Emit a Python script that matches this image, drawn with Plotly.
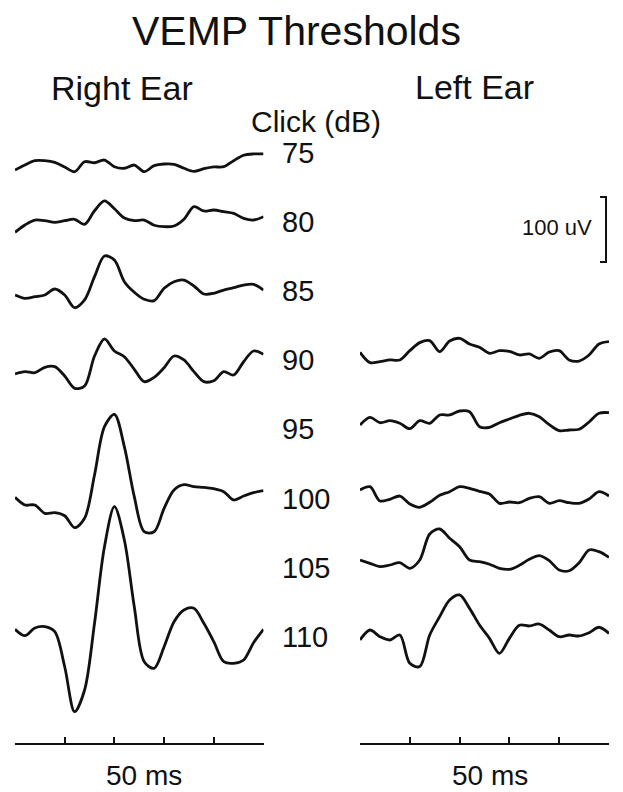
import plotly.graph_objects as go

# ---------------------------------------------------------------------------
# VEMP waveforms: amplitude (uV) sampled every 2 ms over a 50 ms sweep.
# Values are relative to the row baseline of each click level.
# ---------------------------------------------------------------------------
t_ms = [0, 2, 4, 6, 8, 10, 12, 14, 16, 18, 20, 22, 24,
        26, 28, 30, 32, 34, 36, 38, 40, 42, 44, 46, 48, 50]

click_levels_db = [75, 80, 85, 90, 95, 100, 105, 110]

# Right ear (left column)
right_75 = [-26.2, -18.5, -11.8, -11.8, -14.3, -21.5, -28.8, -13.4, -15.0, -10.8, -21.1, -23.5, -18.5,
            -28.8, -19.5, -16.9, -17.4, -23.5, -28.2, -24.2, -21.5, -21.1, -11.8, -3.5, -1.5, -1.5]
right_80 = [-15.7, -4.5, 3.2, 2.2, -0.3, 2.2, 4.3, -3.4, 17.5, 32.5, 20.5, 6.3, 2.2,
            3.2, -4.9, -7.1, -6.0, 4.3, 23.7, 17.1, 18.6, 16.0, 13.4, 5.8, 3.2, 8.3]
right_85 = [-5.8, -10.9, -8.5, -5.8, 3.4, -5.8, -25.4, -13.5, 22.3, 54.2, 48.0, 14.6, -1.7,
            -12.5, -14.5, 4.5, 14.6, 17.2, 8.0, -4.3, -3.2, 1.8, 5.4, 9.5, 10.6, 1.8]
right_90 = [-21.1, -17.5, -19.1, -10.8, -9.8, -24.2, -43.1, -39.5, 6.6, 32.8, 14.3, 5.5, -13.8,
            -32.9, -26.2, -11.4, 6.6, 0.5, -17.5, -32.9, -31.4, -17.5, -22.6, -2.2, 14.3, 9.2]
right_100 = [1.8, -10.0, -10.0, -22.8, -21.8, -26.5, -44.9, -30.5, 36.2, 110.5, 129.5, 79.7, 2.8,
             -51.1, -51.1, -15.1, 13.1, 21.2, 18.2, 17.2, 15.1, 10.5, -2.3, 3.8, 8.9, 12.0]
right_110 = [11.4, 1.5, 13.4, 15.4, 7.7, -46.2, -115.4, -82.0, 20.6, 138.5, 200.0, 148.8, 46.2,
             -38.5, -48.7, -15.4, 23.1, 41.1, 43.7, 20.6, -7.7, -38.5, -40.9, -35.8, -9.2, 11.4]

# Left ear (right column)
left_90 = [12.3, -3.5, -2.1, 0.5, 0.5, 14.8, 27.2, 30.2, 13.2, 29.7, 33.8, 25.1, 20.0,
           10.8, 14.8, 13.8, 8.2, 9.7, 3.1, 12.8, 14.8, 0.5, -1.1, 8.2, 25.1, 28.6]
left_95 = [6.8, 18.6, 10.3, 13.4, 9.4, 1.1, 13.4, 9.4, 22.2, 22.2, 28.3, 27.2, 4.2,
           3.2, 10.3, 16.0, 21.7, 24.8, 19.5, 7.2, -2.0, -0.9, 0.2, 11.4, 24.8, 25.7]
left_100 = [13.1, 18.2, -3.8, -1.2, 3.8, -8.5, -13.5, -5.8, 4.9, 10.5, 18.2, 15.7, 11.1,
            6.9, -7.4, -5.4, -6.5, 0.3, 2.8, -7.4, -3.4, -6.5, -7.4, -0.8, 10.5, 3.8]
left_105 = [11.7, 6.6, 1.4, 4.0, 7.5, -1.1, 11.7, 51.7, 59.4, 45.1, 32.2, 11.7, 9.1,
            5.1, -1.1, -2.6, 3.5, 12.8, 18.3, 10.6, -3.7, -4.8, 7.5, 27.1, 24.5, 15.8]
left_110 = [-5.1, 10.3, 0.0, -5.1, 2.6, -41.0, -46.0, 2.6, 30.8, 56.5, 64.2, 43.6, 18.0,
            -2.5, -25.6, -2.5, 17.5, 16.5, 19.5, 10.3, 0.0, 2.6, 1.1, 6.2, 14.5, 5.1]

right_ear = {75: right_75, 80: right_80, 85: right_85, 90: right_90,
             100: right_100, 110: right_110}
left_ear = {90: left_90, 95: left_95, 100: left_100, 105: left_105, 110: left_110}

scale_bar_uv = 100
sweep_ms = 50

# ---------------------------------------------------------------------------
# Layout geometry
# ---------------------------------------------------------------------------
W, H = 623, 792
PX_PER_UV = 0.65          # vertical gain
ROW_PX = 69.1             # spacing between click levels
FIRST_ROW_PX = 153        # top row position (px from top)
ROW_UV = ROW_PX / PX_PER_UV

Y_TOP = FIRST_ROW_PX / PX_PER_UV
Y_BOTTOM = -(H - FIRST_ROW_PX) / PX_PER_UV

def px_to_uv(py):
    return (FIRST_ROW_PX - py) / PX_PER_UV

def row_offset(db):
    return -click_levels_db.index(db) * ROW_UV

FONT = "Liberation Sans, Arial, sans-serif"
INK = "#111111"
TRACE_STYLE = dict(color=INK, width=2.8, shape="spline", smoothing=0.9)

fig = go.Figure()

for db, vals in right_ear.items():
    off = row_offset(db)
    fig.add_trace(go.Scatter(
        x=t_ms, y=[v + off for v in vals], mode="lines", line=TRACE_STYLE,
        xaxis="x", yaxis="y", hoverinfo="skip", showlegend=False))

for db, vals in left_ear.items():
    off = row_offset(db)
    fig.add_trace(go.Scatter(
        x=t_ms, y=[v + off for v in vals], mode="lines", line=TRACE_STYLE,
        xaxis="x2", yaxis="y", hoverinfo="skip", showlegend=False))

# 100 uV calibration bracket in the left-ear panel
bar_x = 49.4
bar_top = px_to_uv(197)
fig.add_trace(go.Scatter(
    x=[bar_x - 1.2, bar_x, bar_x, bar_x - 1.2],
    y=[bar_top, bar_top, bar_top - scale_bar_uv, bar_top - scale_bar_uv],
    mode="lines", line=dict(color=INK, width=2),
    xaxis="x2", yaxis="y", hoverinfo="skip", showlegend=False))

axis_y = (H - 744) / H
time_axis = dict(
    range=[0, sweep_ms], anchor="free", position=axis_y,
    showline=True, linecolor=INK, linewidth=2,
    showgrid=False, zeroline=False, showticklabels=False,
    ticks="inside", tickmode="linear", tick0=0, dtick=sweep_ms,
    ticklen=10, tickwidth=1.6, tickcolor=INK,
    minor=dict(ticks="inside", dtick=10, ticklen=6, tickwidth=1.6, tickcolor=INK),
    fixedrange=True,
)

fig.update_layout(
    width=W, height=H,
    margin=dict(l=0, r=0, t=0, b=0),
    paper_bgcolor="white", plot_bgcolor="white",
    xaxis=dict(domain=[15 / W, 263.5 / W], **time_axis),
    xaxis2=dict(domain=[360 / W, 609 / W], **time_axis),
    yaxis=dict(range=[Y_BOTTOM, Y_TOP], domain=[0, 1], visible=False, fixedrange=True),
    font=dict(family=FONT, color=INK),
)

def label(text, x_px, y_px, size, anchor="center"):
    fig.add_annotation(text=text, x=x_px / W, y=1 - y_px / H, xref="paper", yref="paper",
                       xanchor=anchor, yanchor="middle", showarrow=False, borderpad=0,
                       font=dict(size=size, family=FONT, color=INK))

label("VEMP Thresholds", 296, 31, 41)
label("Right Ear", 122, 88, 34)
label("Left Ear", 474, 87, 34)
label("Click (dB)", 316, 121, 30)
label("100 uV", 593, 228, 22, anchor="right")
label("50 ms", 144, 775, 28)
label("50 ms", 490, 775, 28)

for db in click_levels_db:
    fig.add_annotation(text=str(db), x=281 / W, y=row_offset(db), xref="paper", yref="y",
                       xanchor="left", yanchor="middle", showarrow=False, borderpad=0,
                       font=dict(size=29, family=FONT, color=INK))

fig.write_html("out.html")
